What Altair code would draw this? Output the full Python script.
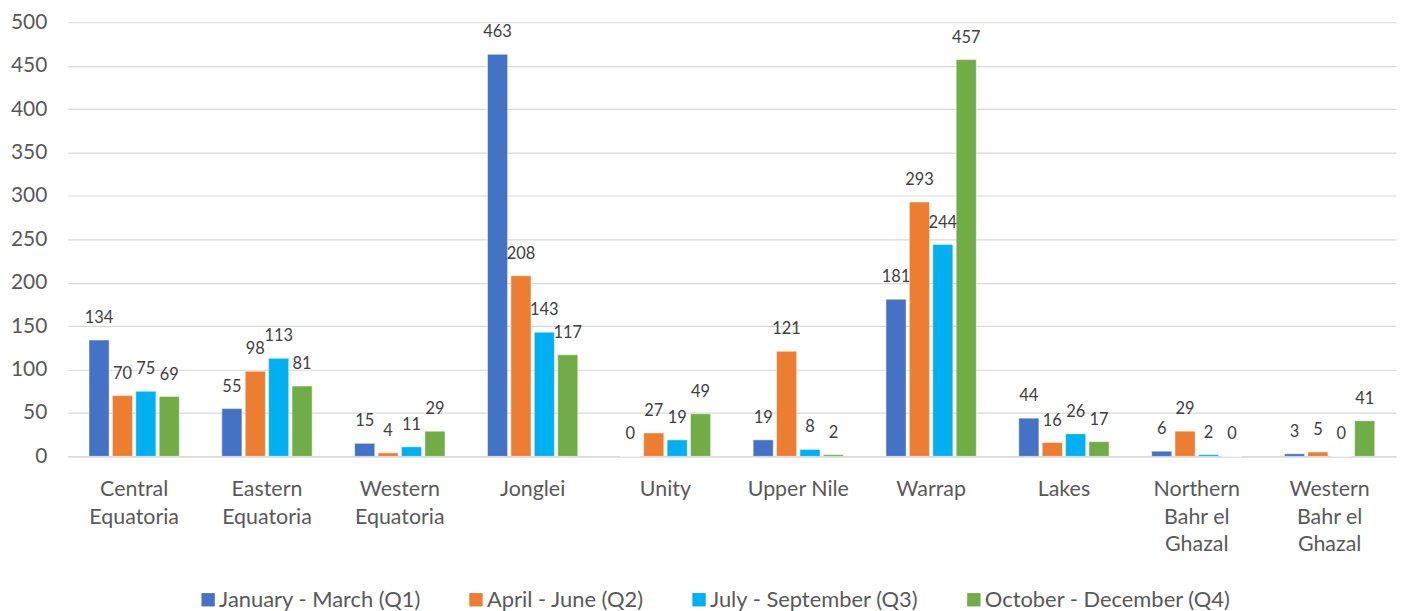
import altair as alt
import pandas as pd

regions = ["Central Equatoria", "Eastern Equatoria", "Western Equatoria", "Jonglei",
           "Unity", "Upper Nile", "Warrap", "Lakes",
           "Northern Bahr el Ghazal", "Western Bahr el Ghazal"]
region_lines = [["Central", "Equatoria"], ["Eastern", "Equatoria"], ["Western", "Equatoria"],
                ["Jonglei"], ["Unity"], ["Upper Nile"], ["Warrap"], ["Lakes"],
                ["Northern", "Bahr el", "Ghazal"], ["Western", "Bahr el", "Ghazal"]]
quarters = ["January - March (Q1)", "April - June (Q2)",
            "July - September (Q3)", "October - December (Q4)"]
colors = ["#4472C4", "#ED7D31", "#00B0F0", "#70AD47"]

q1 = [134, 55, 15, 463, 0, 19, 181, 44, 6, 3]
q2 = [70, 98, 4, 208, 27, 121, 293, 16, 29, 5]
q3 = [75, 113, 11, 143, 19, 8, 244, 26, 2, 0]
q4 = [69, 81, 29, 117, 49, 2, 457, 17, 0, 41]

rows = []
for qi, series in enumerate([q1, q2, q3, q4]):
    for r, v in zip(regions, series):
        rows.append({"region": r, "quarter": quarters[qi], "value": v})
df = pd.DataFrame(rows)

# build label expression for multi-line x labels
expr = "datum.label"
for name, lines in reversed(list(zip(regions, region_lines))):
    arr = "[" + ",".join("'" + s + "'" for s in lines) + "]"
    expr = f"datum.label == '{name}' ? {arr} : ({expr})"

FONT = "Lato"

x = alt.X("region:N", sort=regions, title=None,
          scale=alt.Scale(paddingInner=0.32, paddingOuter=0.16),
          axis=alt.Axis(labelAngle=0, labelExpr=expr, labelFontSize=21.5, labelColor="#595959",
                        labelFont=FONT, labelPadding=22, labelBaseline="top",
                        labelLineHeight=28, ticks=False, domainColor="#d9d9d9",
                        domainWidth=1.5, grid=False, labelLimit=200))
xo = alt.XOffset("quarter:N", sort=quarters,
                 scale=alt.Scale(paddingInner=0.14, paddingOuter=0))
y = alt.Y("value:Q", title=None,
          scale=alt.Scale(domain=[0, 500], nice=False),
          axis=alt.Axis(values=list(range(0, 501, 50)), labelFontSize=21, labelColor="#595959",
                        labelFont=FONT, labelPadding=21, ticks=False, domain=False,
                        gridColor="#d9d9d9", gridWidth=1.2))

color = alt.Color("quarter:N", sort=quarters,
                  scale=alt.Scale(domain=quarters, range=colors),
                  legend=alt.Legend(title=None, orient="none", direction="horizontal",
                                    legendX=130, legendY=569,
                                    labelFontSize=22, labelFont=FONT, labelColor="#595959",
                                    labelLimit=400,
                                    symbolType="square", symbolSize=180, symbolStrokeWidth=0,
                                    columnPadding=44, labelOffset=0,
                                    symbolOpacity=1))

bars = alt.Chart(df).mark_bar(stroke="white", strokeWidth=0.5).encode(
    x=x, xOffset=xo, y=y, color=color)

labels = alt.Chart(df).mark_text(baseline="middle", dy=-22, fontSize=16.5,
                                 font=FONT, color="#404040").encode(
    x=alt.X("region:N", sort=regions), xOffset=xo, y="value:Q", text="value:Q")

chart = alt.layer(bars, labels).properties(
    width=1334, height=436, background="white",
    padding={"left": 60, "top": 13, "right": 5, "bottom": 154},
    autosize=alt.AutoSizeParams(type="none"),
).configure_view(stroke=None)

chart.save("out.html", embed_options={"renderer": "svg", "actions": False})
